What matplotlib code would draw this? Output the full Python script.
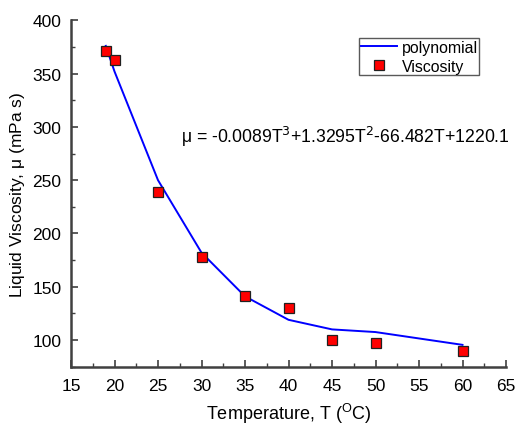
import matplotlib
matplotlib.use("Agg")
import matplotlib.pyplot as plt
from matplotlib.ticker import MultipleLocator

plt.rcParams['font.family'] = ['Liberation Sans', 'DejaVu Sans']

temps = [19, 20, 25, 30, 35, 40, 45, 50, 60]
viscosity = [371, 362.5, 239, 178, 141.5, 130.5, 100.5, 97.5, 90]
poly_fit = [376, 352, 250, 182, 141, 119, 110, 107.5, 95.5]
equation = r"$\mathregular{\mu}$ = -0.0089T$^3$+1.3295T$^2$-66.482T+1220.1"

fig = plt.figure(figsize=(5.17, 4.27), dpi=100)
ax = fig.add_axes([71/517, 1-367.7/427, (506-71)/517, (367.7-21.3)/427])

ax.plot(temps, poly_fit, color='#0000ff', lw=1.4, label='polynomial', zorder=2)
ax.plot(temps, viscosity, ls='none', marker='s', ms=6.6, mfc='#ff0000', mec='#202020',
        mew=0.9, label='Viscosity', zorder=3)

ax.set_xlim(15, 65)
ax.set_ylim(75, 400)
ax.xaxis.set_major_locator(MultipleLocator(5))
ax.xaxis.set_minor_locator(MultipleLocator(2.5))
ax.yaxis.set_minor_locator(MultipleLocator(25))
ax.set_yticks([100, 150, 200, 250, 300, 350, 400])

for s in ['top', 'right']:
    ax.spines[s].set_visible(False)
for s in ['left', 'bottom']:
    ax.spines[s].set_color('#404040')
    ax.spines[s].set_linewidth(1.8)

ax.tick_params(which='major', direction='in', length=5, width=1.2, color='#404040',
               labelsize=12.5)
ax.tick_params(axis='x', which='major', pad=8)
ax.tick_params(axis='y', which='major', pad=7)
ax.tick_params(which='minor', direction='in', length=3, width=1.0, color='#404040')

ax.set_xlabel(r"Temperature, T ($\mathregular{^O}$C)", fontsize=13, labelpad=6)
ax.set_ylabel(r"Liquid Viscosity, $\mathregular{\mu}$ (mPa s)", fontsize=12.5, labelpad=4)

ax.text(27.7, 291.5, equation, fontsize=12.7, va='center', ha='left')

leg = ax.legend(loc='upper left', bbox_to_anchor=((359-71)/435, 1-(39-21.3)/346.4),
                fontsize=11.4, frameon=True, fancybox=False, handlelength=2.3,
                handletextpad=0.3, borderpad=0.1, labelspacing=0.25, borderaxespad=0)
leg.get_frame().set_edgecolor('#303030')
leg.get_frame().set_linewidth(1.0)

fig.savefig('out.png', dpi=100)
